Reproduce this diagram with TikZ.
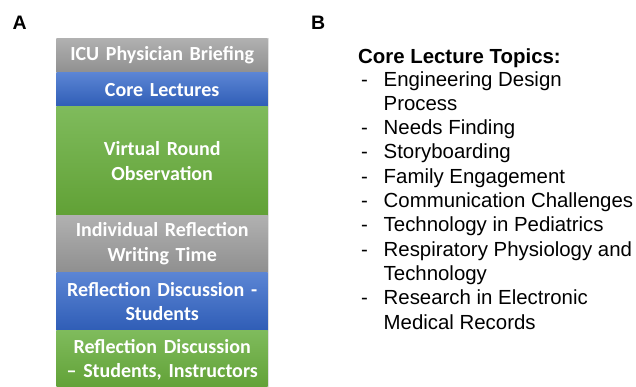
\documentclass[tikz,border=0pt]{standalone}
\usepackage{fontspec}
\setmainfont{Liberation Sans}
\newfontfamily\stagefont{Carlito}
\definecolor{grayTop}{HTML}{B1B1B1}
\definecolor{grayBot}{HTML}{8F8F8F}
\definecolor{blueTop}{HTML}{5B85D4}
\definecolor{blueBot}{HTML}{2F5DB6}
\definecolor{greenTop}{HTML}{7FBB5C}
\definecolor{greenBot}{HTML}{61A136}
\begin{document}
\begin{tikzpicture}[x=1pt,y=-1pt,
  stage/.style={minimum width=211pt, inner sep=0pt, outer sep=0pt,
    text=white, align=center, text width=205pt,
    font=\stagefont\bfseries\fontsize{20}{24.5}\selectfont},
  graystage/.style={stage, top color=grayTop, bottom color=grayBot},
  bluestage/.style={stage, top color=blueTop, bottom color=blueBot},
  greenstage/.style={stage, top color=greenTop, bottom color=greenBot},
  panel/.style={anchor=base west, inner sep=0pt, font=\bfseries\fontsize{19.5}{23}\selectfont},
  topic/.style={anchor=base west, inner sep=0pt, align=left, font=\fontsize{20.4}{24.3}\selectfont},
  dash mark/.style={anchor=base west, inner sep=0pt, font=\fontsize{20.4}{24.3}\selectfont}]
\clip (0,0) rectangle (636,386);
\fill[white] (0,0) rectangle (636,386);

% panel letters
\node[panel] (labA) at (12.5,29) {A};
\node[panel] (labB) at (311,29) {B};

% soft shadow behind the stack of stages
\fill[black!12] (55.8,37.6) rectangle (269,390);

% stages of the session, top to bottom
\node[graystage,  minimum height=34.4pt] (s1) at (162.2,55.5)   {ICU Physician Briefing};
\node[bluestage,  minimum height=34pt]   (s2) at (162.2,89.7)   {Core Lectures};
\node[greenstage, minimum height=108.3pt](s3) at (162.2,160.85) {Virtual Round\\Observation};
\node[graystage,  minimum height=57.7pt] (s4) at (162.2,243.85) {Individual Reflection\\Writing Time};
\node[bluestage,  minimum height=58pt]   (s5) at (162.2,301.7)  {Reflection Discussion -\\Students};
\node[greenstage, minimum height=58.3pt] (s6) at (162.2,359.85) {Reflection Discussion\\– Students, Instructors};

% lecture topic list (multi-line items sit on the baseline of their last line)
\node[anchor=base west, inner sep=0pt, font=\bfseries\fontsize{20.4}{24}\selectfont] (title) at (358,63) {Core Lecture Topics:};
\node[dash mark] (d1) at (361,86)    {-};
\node[topic]     (t1) at (383.5,110.3) {Engineering Design\\Process};
\node[dash mark] (d2) at (361,134.6) {-};
\node[topic]     (t2) at (383.5,134.6) {Needs Finding};
\node[dash mark] (d3) at (361,158.9) {-};
\node[topic]     (t3) at (383.5,158.9) {Storyboarding};
\node[dash mark] (d4) at (361,183.2) {-};
\node[topic]     (t4) at (383.5,183.2) {Family Engagement};
\node[dash mark] (d5) at (361,207.5) {-};
\node[topic]     (t5) at (383.5,207.5) {Communication Challenges};
\node[dash mark] (d6) at (361,231.8) {-};
\node[topic]     (t6) at (383.5,231.8) {Technology in Pediatrics};
\node[dash mark] (d7) at (361,256.1) {-};
\node[topic]     (t7) at (383.5,280.4) {Respiratory Physiology and\\Technology};
\node[dash mark] (d8) at (361,304.7) {-};
\node[topic]     (t8) at (383.5,329)   {Research in Electronic\\Medical Records};
\end{tikzpicture}
\end{document}
